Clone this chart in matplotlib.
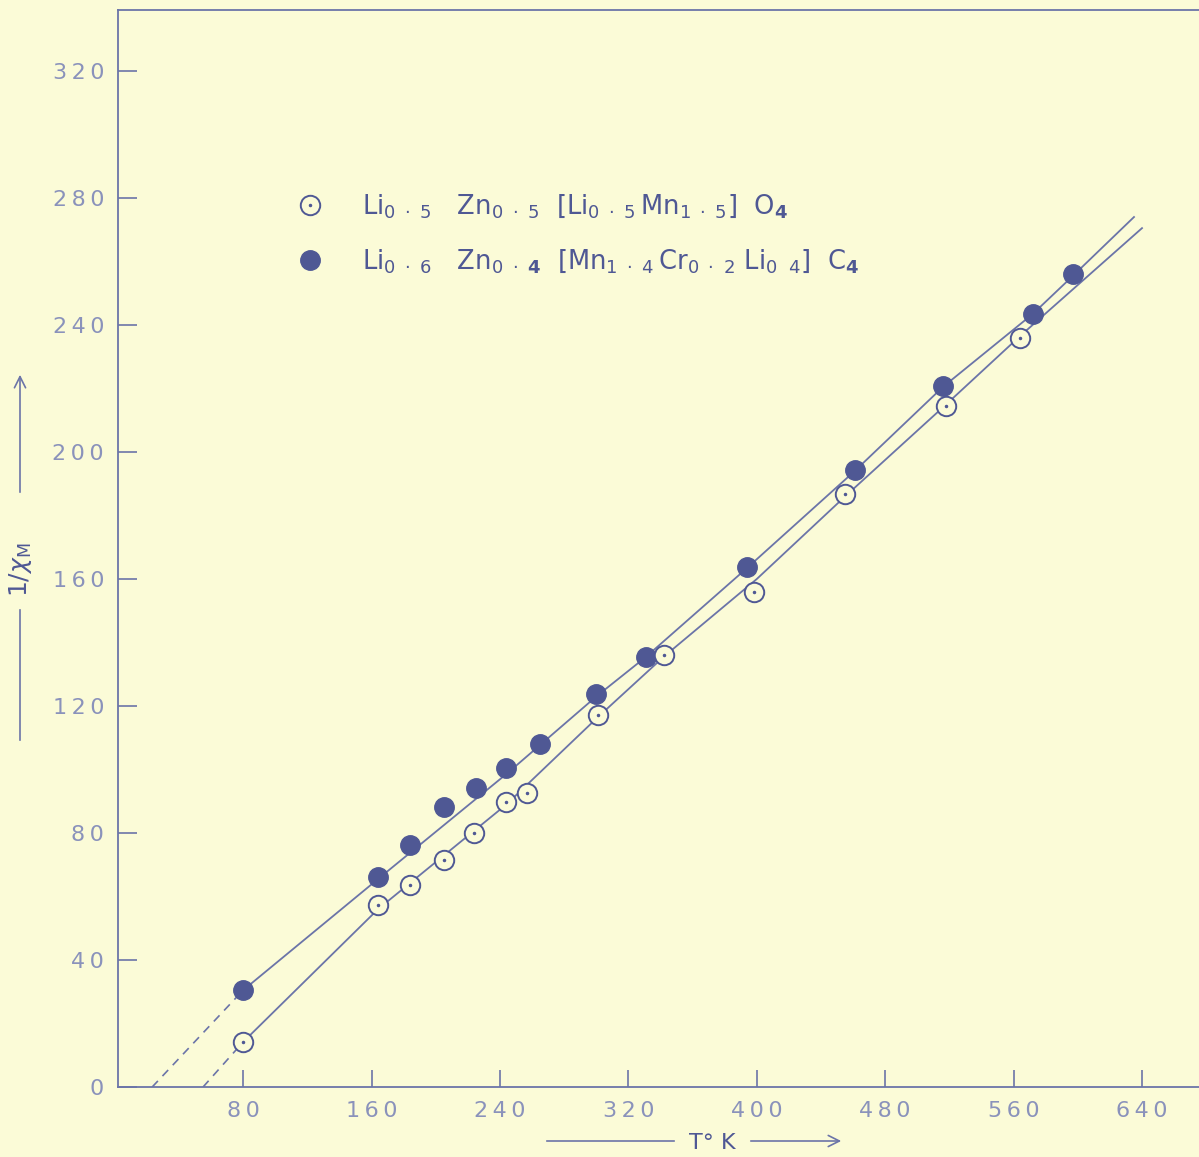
import numpy as np
import matplotlib
matplotlib.use("Agg")
import matplotlib.pyplot as plt
from matplotlib.lines import Line2D
from matplotlib.legend_handler import HandlerTuple

# measured points, T (K) vs 1/chi_M
t_filled = [80, 164, 184, 205, 225, 244, 265, 300, 331, 394, 461, 516, 572, 597]
y_filled = [30.5, 66.1, 76.2, 88.2, 94.2, 100.5, 108, 123.8, 135.4, 163.8, 194.3, 220.8, 243.5, 256]

t_open = [80, 164, 184, 205, 224, 244, 257, 301, 342, 398, 455, 518, 564]
y_open = [14.2, 57.3, 63.6, 71.5, 80, 89.8, 92.6, 117.2, 136.1, 155.9, 186.8, 214.5, 235.9]

# hand drawn curves through the points
curve_filled_t = [80, 164, 245, 300, 331, 394, 461, 516, 572, 597, 635]
curve_filled_y = [30.5, 65.5, 99, 123, 135.5, 163.5, 194, 220.5, 243.5, 255.5, 274]
curve_open_t = [80, 164, 244, 301, 342, 400, 455, 518, 564, 640]
curve_open_y = [14.2, 56, 89, 116.5, 135.5, 160, 186, 215, 236.5, 270.5]

# dashed extrapolation to 1/chi = 0
extrap_filled_t = [23.3, 80]
extrap_filled_y = [0, 30.5]
extrap_open_t = [55, 80]
extrap_open_y = [0, 14.2]

x_ticks = [80, 160, 240, 320, 400, 480, 560, 640]
y_ticks = [0, 40, 80, 120, 160, 200, 240, 280, 320]

BG = '#fbfbd7'
INK = '#4f5894'
LINE = '#6b74a8'
LABEL = '#8a92bb'

fig = plt.figure(figsize=(11.99, 11.57), dpi=100, facecolor=BG)
ax = fig.add_axes([118 / 1199, 70 / 1157, (1199 - 118) / 1199, (1087 - 10) / 1157])
ax.set_facecolor(BG)

ax.plot(curve_filled_t, curve_filled_y, color=LINE, lw=1.3)
ax.plot(curve_open_t, curve_open_y, color=LINE, lw=1.3)
ax.plot(extrap_filled_t, extrap_filled_y, color=LINE, lw=1.2, ls=(0, (5, 4)))
ax.plot(extrap_open_t, extrap_open_y, color=LINE, lw=1.2, ls=(0, (5, 4)))

ax.plot(t_filled, y_filled, 'o', ms=14, color=INK, mec=INK, zorder=3)
ax.plot(t_open, y_open, 'o', ms=14, mfc=BG, mec=INK, mew=1.4, zorder=3)
ax.plot(t_open, y_open, '.', ms=3, color=INK, zorder=4)

ax.set_xlim(2, 675.5)
ax.set_ylim(0, 339.2)

for side in ['left', 'bottom', 'top']:
    ax.spines[side].set_color(LINE)
    ax.spines[side].set_linewidth(1.3)
ax.spines['right'].set_visible(False)

sp = '\u2009'
ax.set_xticks(x_ticks)
ax.set_xticklabels([sp.join(str(v)) for v in x_ticks])
ax.set_yticks(y_ticks)
ax.set_yticklabels([sp.join(str(v)) for v in y_ticks])
ax.tick_params(axis='y', direction='in', length=14, width=1.2, color=LINE,
               labelcolor=LABEL, labelsize=16, pad=10)
ax.tick_params(axis='x', direction='in', length=12, width=1.2, color=LINE,
               labelcolor=LABEL, labelsize=16, pad=10)

# legend
h_open = (Line2D([], [], ls='none', marker='o', ms=14, mfc=BG, mec=INK, mew=1.4),
          Line2D([], [], ls='none', marker='.', ms=3, color=INK))
h_fill = Line2D([], [], ls='none', marker='o', ms=14, color=INK)
lab_open = (r'$\mathrm{Li}_{0\ \cdot\ 5}\ \ \ \mathrm{Zn}_{0\ \cdot\ 5}\ \ [\mathrm{Li}_{0\ \cdot\ 5}\,'
            r'\mathrm{Mn}_{1\ \cdot\ 5}]\ \ \mathrm{O}_{\mathbf{4}}$')
lab_fill = (r'$\mathrm{Li}_{0\ \cdot\ 6}\ \ \ \mathrm{Zn}_{0\ \cdot\ \mathbf{4}}\ \ [\mathrm{Mn}_{1\ \cdot\ 4}\,'
            r'\mathrm{Cr}_{0\ \cdot\ 2}\ \mathrm{Li}_{0\ \ 4}]\ \ \mathrm{C}_{\mathbf{4}}$')
leg = ax.legend([h_open, h_fill], [lab_open, lab_fill],
                handler_map={tuple: HandlerTuple(ndivide=1, pad=0)},
                loc='upper left', bbox_to_anchor=(284 / 1199, 1 - 182 / 1157),
                bbox_transform=fig.transFigure, frameon=False,
                fontsize=18.5, labelspacing=1.05, handletextpad=1.45, handlelength=1.2,
                borderaxespad=0)
for t in leg.get_texts():
    t.set_color(INK)

# axis titles with arrows
fig.text(20 / 1199, 1 - 570 / 1157, r'$1/\chi_{\mathrm{M}}$', rotation=90,
         ha='center', va='center', color=INK, fontsize=18)
fig.add_artist(Line2D([20 / 1199, 20 / 1199], [1 - 740 / 1157, 1 - 610 / 1157],
                      color=LINE, lw=1.2))
ax.annotate('', xy=(20 / 1199, 1 - 372 / 1157), xytext=(20 / 1199, 1 - 495 / 1157),
            xycoords='figure fraction', textcoords='figure fraction',
            arrowprops=dict(arrowstyle='->', color=LINE, lw=1.2, mutation_scale=20))

fig.text(712 / 1199, 1 - 1143 / 1157, 'T\u00b0 K', ha='center', va='center',
         color=INK, fontsize=16)
fig.add_artist(Line2D([547 / 1199, 674 / 1199], [1 - 1141 / 1157, 1 - 1141 / 1157],
                      color=LINE, lw=1.2))
ax.annotate('', xy=(844 / 1199, 1 - 1141 / 1157), xytext=(748 / 1199, 1 - 1141 / 1157),
            xycoords='figure fraction', textcoords='figure fraction',
            arrowprops=dict(arrowstyle='->', color=LINE, lw=1.2, mutation_scale=20))

fig.savefig('out.png', dpi=100, facecolor=BG)
